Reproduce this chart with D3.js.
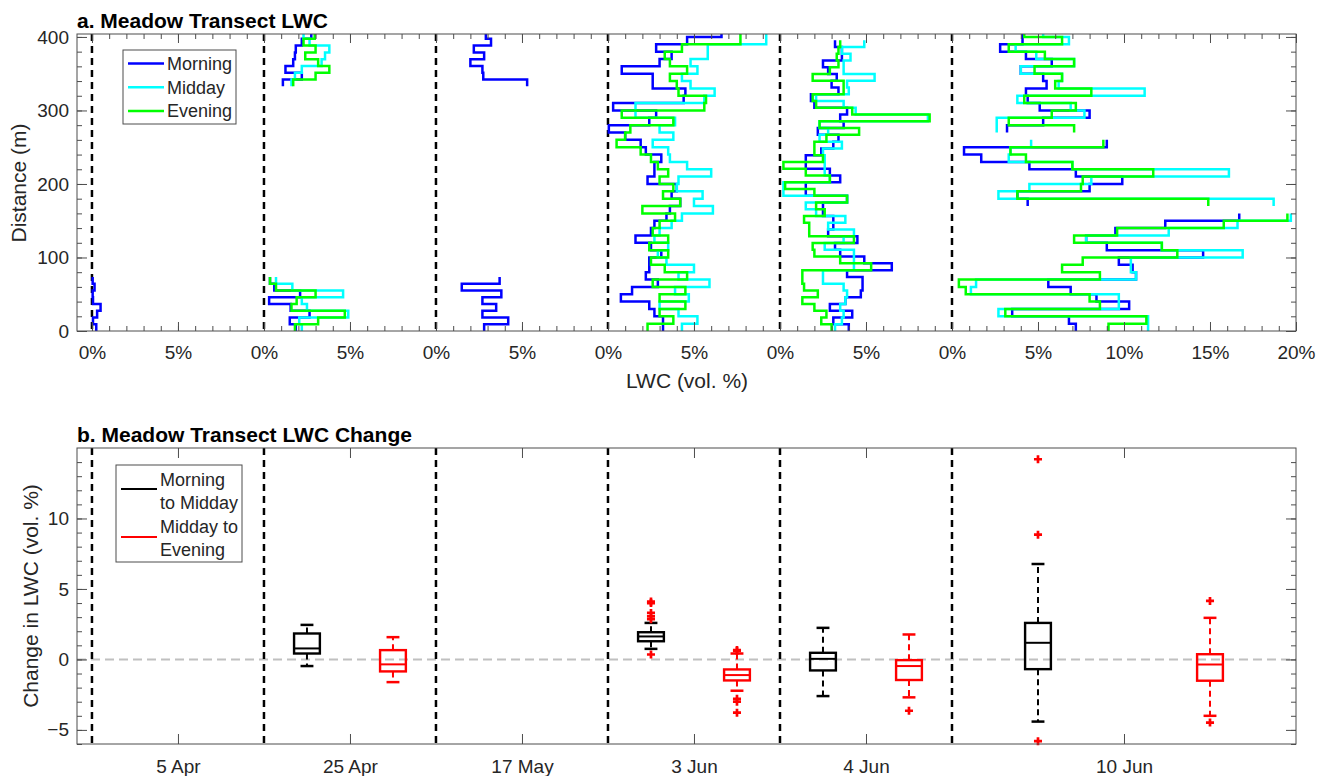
<!DOCTYPE html>
<html>
<head>
<meta charset="utf-8">
<script src="https://cdn.jsdelivr.net/npm/d3@7"></script>
<style>
  body { margin: 0; background: #fff; }
  svg { font-family: "Liberation Sans", Arial, Helvetica, sans-serif; }
</style>
</head>
<body>
<div id="chart"></div>
<script>
// survey days and their slot on the shared x axis (each slot is 10 %, the last one 20 %)
const dayLabels = ['5 Apr', '25 Apr', '17 May', '3 Jun', '4 Jun', '10 Jun'];
const dayOffsets = [0, 10, 20, 30, 40, 50];
const dayTicks = [5, 15, 25, 35, 45, 60];
const binSize = [9.2, 9.2, 9.2, 10, 9.2, 10]; // m between readings

const periods = ['Morning', 'Midday', 'Evening'];
const periodColors = ['#0000ff', '#00ffff', '#00ff00'];

// LWC (vol. %) from 0 m upwards, one value per bin
const apr5Morning = [0.25, 0.06, 0.3, 0.5, 0.06, 0.04, 0.15, 0.04];

const apr25MorningLow = [1.85, 1.5, 2.65, 1.55, 0.3, 2.1, 0.6, 0.35];
const apr25MorningHigh = [1.1, 2.2, 1.25, 1.7, 1.8, 1.85, 2.2, 2.75];
const apr25MiddayLow = [2.2, 2.05, 4.9, 2.5, 2.2, 4.6, 1.65, 0.7];
const apr25MiddayHigh = [1.6, 1.8, 2.2, 3.35, 3.55, 3.8, 2.65, 2.3];
const apr25EveningLow = [1.8, 3.15, 4.7, 1.6, 1.9, 3.0, 0.7, 0.35];
const apr25EveningHigh = [1.7, 3.0, 3.8, 3.15, 2.4, 3.0, 2.3, 2.95];

const may17MorningLow = [2.8, 4.2, 2.7, 3.5, 2.7, 3.8, 1.5, 3.7];
const may17MorningHigh = [5.3, 2.75, 2.7, 2.0, 2.8, 2.2, 3.2, 2.9];

const jun3Morning = [3.2, 3.2, 2.7, 2.4, 0.75, 1.4, 2.9, 2.2, 2.4, 2.4, 3.1, 2.5, 1.6, 2.5,
  2.7, 3.4, 3.6, 4.2, 3.7, 4.0, 2.3, 2.7, 2.7, 3.1, 2.2, 1.9, 1.0, 0.05, 2.4, 2.8, 0.3, 4.4,
  4.5, 2.6, 2.6, 0.8, 3.0, 3.7, 2.8, 4.6, 6.6];
const jun3Midday = [4.3, 5.2, 4.1, 3.0, 4.7, 3.9, 5.9, 4.1, 5.0, 3.4, 2.9, 3.5, 2.7, 3.0, 3.7,
  4.3, 6.1, 5.0, 5.5, 4.0, 4.1, 6.0, 4.6, 3.6, 3.5, 2.6, 3.8, 3.0, 3.9, 1.6, 1.6, 5.6, 6.2,
  4.8, 4.3, 5.2, 4.8, 5.8, 5.8, 9.2, 9.2];
const jun3Evening = [2.3, 3.8, 3.0, 4.5, 3.0, 4.5, 2.6, 4.6, 3.3, 2.5, 3.5, 2.4, 3.5, 2.6, 3.0,
  3.9, 2.0, 4.2, 3.2, 3.8, 3.0, 3.5, 2.9, 2.5, 1.9, 0.5, 1.0, 1.3, 3.8, 0.8, 5.6, 5.7, 4.1,
  4.0, 3.6, 4.6, 3.6, 3.3, 4.3, 7.7, 7.7];

const jun4Morning = [4.0, 3.1, 4.2, 2.9, 3.8, 4.7, 4.8, 4.8, 3.9, 6.5, 4.9, 3.5, 3.2, 4.5, 2.8,
  3.1, 3.1, 2.5, 2.5, 3.9, 1.5, 1.5, 3.5, 2.9, 1.5, 1.5, 2.4, 3.1, 3.4, 2.2, 3.7, 3.5, 3.9,
  2.0, 1.8, 3.4, 3.0, 3.3, 2.8, 2.5, 3.6, 3.6, 3.2];
const jun4Midday = [3.2, 3.6, 3.7, 3.5, 3.8, 3.9, 3.7, 2.5, 2.5, 4.3, 4.3, 4.3, 2.6, 3.7, 4.3,
  2.8, 3.8, 2.1, 1.5, 3.9, 0.2, 0.2, 2.9, 2.6, 2.6, 2.6, 2.5, 3.6, 2.3, 2.8, 2.3, 8.6, 4.4,
  3.7, 2.1, 4.0, 3.9, 5.5, 3.7, 3.7, 4.1, 3.6, 4.9];
const jun4Evening = [3.0, 2.4, 2.7, 2.0, 1.3, 2.2, 1.4, 1.3, 1.3, 5.3, 3.5, 2.0, 1.9, 4.3, 1.7,
  1.7, 1.4, 2.6, 2.1, 3.9, 2.0, 0.3, 2.9, 1.5, 0.2, 2.5, 2.0, 2.0, 2.7, 4.6, 2.3, 8.7, 4.2,
  2.1, 1.9, 3.7, 3.7, 1.9, 2.9, 3.4, 3.3, 3.4, 3.5];

// 10 Jun has two gaps (no readings near 160 m and 260 m)
const jun10MorningA = [7.2, 6.8, 3.5, 10.3, 8.4, 6.9, 5.6, 10.7, 10.5, 9.7, 14.6, 9.0, 7.8,
  9.5, 12.4, 16.7];
const jun10MorningB = [4.4, 3.8, 8.0, 9.9, 7.2, 4.5, 1.7, 0.7, 9.0];
const jun10MorningC = [3.2, 5.3, 8.0, 5.1, 4.4, 4.3, 5.5, 5.3, 4.0, 5.8, 4.3, 2.8, 4.1, 4.1];
const jun10MiddayA = [11.4, 11.4, 2.7, 9.7, 9.7, 1.1, 1.4, 10.7, 10.4, 10.4, 16.9, 12.2, 7.8,
  12.6, 16.6, 19.7];
const jun10MiddayB = [18.7, 2.7, 4.5, 8.1, 16.1, 7.0, 3.3, 3.4, 4.6];
const jun10MiddayC = [2.6, 2.6, 7.7, 6.9, 3.8, 11.2, 6.2, 6.4, 4.0, 7.1, 4.9, 3.7, 6.8, 5.3];
const jun10EveningA = [9.1, 11.3, 3.1, 8.6, 8.0, 0.8, 0.4, 8.6, 6.4, 7.6, 13.1, 12.2, 7.1,
  9.6, 15.8, 19.5];
const jun10EveningB = [14.9, 3.8, 7.5, 7.6, 11.7, 7.0, 4.3, 3.4, 8.8];
const jun10EveningC = [7.1, 3.3, 5.8, 7.2, 4.2, 8.1, 6.0, 6.4, 4.8, 7.1, 5.4, 3.3, 6.4, 4.2];

// [day, period, [[start distance (m), values], ...]]
const profiles = [
  [0, 0, [[0, apr5Morning]]],
  [1, 0, [[0, apr25MorningLow], [333, apr25MorningHigh]]],
  [2, 0, [[0, may17MorningLow], [333, may17MorningHigh]]],
  [3, 0, [[0, jun3Morning]]],
  [4, 0, [[0, jun4Morning]]],
  [5, 0, [[0, jun10MorningA], [170, jun10MorningB], [270, jun10MorningC]]],
  [1, 1, [[0, apr25MiddayLow], [333, apr25MiddayHigh]]],
  [3, 1, [[0, jun3Midday]]],
  [4, 1, [[0, jun4Midday]]],
  [5, 1, [[0, jun10MiddayA], [170, jun10MiddayB], [270, jun10MiddayC]]],
  [1, 2, [[0, apr25EveningLow], [333, apr25EveningHigh]]],
  [3, 2, [[0, jun3Evening]]],
  [4, 2, [[0, jun4Evening]]],
  [5, 2, [[0, jun10EveningA], [170, jun10EveningB], [270, jun10EveningC]]]
];

// change boxes: [lower whisker, q1, median, q3, upper whisker]
const boxDays = ['25 Apr', '3 Jun', '4 Jun', '10 Jun'];
const mmPos = [12.5, 32.5, 42.5, 55];
const mePos = [17.5, 37.5, 47.5, 65];
const mmStats = [
  [-0.47, 0.42, 0.78, 1.84, 2.45],
  [0.75, 1.29, 1.63, 1.93, 2.59],
  [-2.6, -0.78, 0.04, 0.47, 2.24],
  [-4.41, -0.69, 1.18, 2.59, 6.77]
];
const meStats = [
  [-1.61, -0.85, -0.35, 0.66, 1.58],
  [-2.22, -1.49, -1.11, -0.71, 0.42],
  [-2.69, -1.46, -0.47, -0.05, 1.77],
  [-4.0, -1.51, -0.36, 0.37, 2.95]
];
const mmOutliers = [[], [4.1, 4.0, 3.3, 3.05, 2.85, 0.35], [], [14.2, 8.85, -5.8]];
const meOutliers = [[], [0.66, 0.6, -2.79, -3.0, -3.78], [-3.64], [4.15, -4.48]];

const svgWidth = 1325;
const svgHeight = 776;
const axisColor = '#4d4d4d';
const textColor = '#262626';

const left = 77;
const right = 1296;
const panelA = {top: 34, bottom: 331};
const panelB = {top: 448, bottom: 744};

const svg = d3.select('#chart')
                .append('svg')
                .attr('width', svgWidth)
                .attr('height', svgHeight);

const x = d3.scaleLinear().domain([-0.87, 70]).range([left, right]);
const yA = d3.scaleLinear().domain([0, 404]).range([panelA.bottom, panelA.top]);
const yB = d3.scaleLinear().domain([-6, 15]).range([panelB.bottom, panelB.top]);

const styleAxis = function(g) {
  g.select('.domain').remove();
  g.selectAll('.tick line').attr('stroke', axisColor).attr('stroke-width', 1);
  g.selectAll('.tick text').attr('fill', textColor).style('font-size', '19px');
};

// ---------- panel a ----------
svg.append('defs').append('clipPath').attr('id', 'clipA')
    .append('rect')
    .attr('x', left).attr('y', panelA.top)
    .attr('width', right - left).attr('height', panelA.bottom - panelA.top);

const gA = svg.append('g');

gA.selectAll('line.sep')
    .data(dayOffsets)
    .join('line')
    .classed('sep', true)
    .attr('x1', d => x(d)).attr('x2', d => x(d))
    .attr('y1', panelA.top).attr('y2', panelA.bottom)
    .attr('stroke', '#000')
    .attr('stroke-width', 2.5)
    .attr('stroke-dasharray', '7,5');

const stair = d3.line()
                  .x(d => x(d[0]))
                  .y(d => yA(d[1]))
                  .curve(d3.curveStepBefore);

const lineGroup = gA.append('g').attr('clip-path', 'url(#clipA)');
profiles.forEach(([day, period, runs]) => {
  runs.forEach(([start, vals]) => {
    const pts = vals.map((v, i) => [dayOffsets[day] + v, start + i * binSize[day]]);
    pts.push([dayOffsets[day] + vals[vals.length - 1], start + vals.length * binSize[day]]);
    lineGroup.append('path')
        .attr('d', stair(pts))
        .attr('fill', 'none')
        .attr('stroke', periodColors[period])
        .attr('stroke-width', 2.5);
  });
});

const pctTicks = d3.range(0, 71, 1);
const pctMajor = pctTicks.filter(v => v % 5 === 0);
const pctLabel = v => (v < 50 ? v % 10 : v - 50) + '%';

gA.append('g')
    .attr('transform', `translate(0, ${panelA.bottom})`)
    .call(d3.axisBottom(x).tickValues(pctTicks).tickSize(-5).tickFormat(''))
    .call(styleAxis);
gA.append('g')
    .attr('transform', `translate(0, ${panelA.bottom})`)
    .call(d3.axisBottom(x).tickValues(pctMajor).tickSize(-9).tickPadding(15)
              .tickFormat(pctLabel))
    .call(styleAxis);
gA.append('g')
    .attr('transform', `translate(0, ${panelA.top})`)
    .call(d3.axisTop(x).tickValues(pctTicks).tickSize(-5).tickFormat(''))
    .call(styleAxis);
gA.append('g')
    .attr('transform', `translate(0, ${panelA.top})`)
    .call(d3.axisTop(x).tickValues(pctMajor).tickSize(-9).tickFormat(''))
    .call(styleAxis);

const distMinor = d3.range(0, 401, 20);
const distMajor = [0, 100, 200, 300, 400];
gA.append('g')
    .attr('transform', `translate(${left}, 0)`)
    .call(d3.axisLeft(yA).tickValues(distMinor).tickSize(-5).tickFormat(''))
    .call(styleAxis);
gA.append('g')
    .attr('transform', `translate(${left}, 0)`)
    .call(d3.axisLeft(yA).tickValues(distMajor).tickSize(-10).tickPadding(8))
    .call(styleAxis);
gA.append('g')
    .attr('transform', `translate(${right}, 0)`)
    .call(d3.axisRight(yA).tickValues(distMinor).tickSize(-5).tickFormat(''))
    .call(styleAxis);
gA.append('g')
    .attr('transform', `translate(${right}, 0)`)
    .call(d3.axisRight(yA).tickValues(distMajor).tickSize(-10).tickFormat(''))
    .call(styleAxis);

gA.append('rect')
    .attr('x', left).attr('y', panelA.top)
    .attr('width', right - left).attr('height', panelA.bottom - panelA.top)
    .attr('fill', 'none').attr('stroke', axisColor).attr('stroke-width', 1);

gA.append('text')
    .attr('x', left).attr('y', 28)
    .style('font-size', '21px').style('font-weight', 'bold')
    .text('a. Meadow Transect LWC');
gA.append('text')
    .attr('x', 687).attr('y', 388)
    .attr('text-anchor', 'middle')
    .attr('fill', textColor)
    .style('font-size', '21px')
    .text('LWC (vol. %)');
gA.append('text')
    .attr('transform', 'translate(26, 183) rotate(-90)')
    .attr('text-anchor', 'middle')
    .attr('fill', textColor)
    .style('font-size', '21px')
    .text('Distance (m)');

// legend a
const legA = gA.append('g');
legA.append('rect')
    .attr('x', 123).attr('y', 50).attr('width', 113).attr('height', 74)
    .attr('fill', '#fff').attr('stroke', axisColor).attr('stroke-width', 1);
periods.forEach((p, i) => {
  const yy = 63.5 + i * 23.7;
  legA.append('line')
      .attr('x1', 128).attr('x2', 164).attr('y1', yy).attr('y2', yy)
      .attr('stroke', periodColors[i]).attr('stroke-width', 2.5);
  legA.append('text')
      .attr('x', 167).attr('y', yy).attr('dy', '0.35em')
      .attr('fill', textColor)
      .style('font-size', '18px')
      .text(p);
});

// ---------- panel b ----------
const gB = svg.append('g');

gB.append('line')
    .attr('x1', left).attr('x2', right)
    .attr('y1', yB(0)).attr('y2', yB(0))
    .attr('stroke', '#c0c0c0')
    .attr('stroke-width', 2)
    .attr('stroke-dasharray', '9,5');

gB.selectAll('line.sep')
    .data(dayOffsets)
    .join('line')
    .classed('sep', true)
    .attr('x1', d => x(d)).attr('x2', d => x(d))
    .attr('y1', panelB.top).attr('y2', panelB.bottom)
    .attr('stroke', '#000')
    .attr('stroke-width', 2.5)
    .attr('stroke-dasharray', '7,5');

gB.append('g')
    .attr('transform', `translate(0, ${panelB.bottom})`)
    .call(d3.axisBottom(x).tickValues(dayTicks).tickSize(-10).tickPadding(16)
              .tickFormat((d, i) => dayLabels[i]))
    .call(styleAxis);
gB.append('g')
    .attr('transform', `translate(0, ${panelB.top})`)
    .call(d3.axisTop(x).tickValues(dayTicks).tickSize(-10).tickFormat(''))
    .call(styleAxis);

const chMinor = d3.range(-6, 15, 1);
const chMajor = [-5, 0, 5, 10];
gB.append('g')
    .attr('transform', `translate(${left}, 0)`)
    .call(d3.axisLeft(yB).tickValues(chMinor).tickSize(-5).tickFormat(''))
    .call(styleAxis);
gB.append('g')
    .attr('transform', `translate(${left}, 0)`)
    .call(d3.axisLeft(yB).tickValues(chMajor).tickSize(-10).tickPadding(8))
    .call(styleAxis);
gB.append('g')
    .attr('transform', `translate(${right}, 0)`)
    .call(d3.axisRight(yB).tickValues(chMinor).tickSize(-5).tickFormat(''))
    .call(styleAxis);
gB.append('g')
    .attr('transform', `translate(${right}, 0)`)
    .call(d3.axisRight(yB).tickValues(chMajor).tickSize(-10).tickFormat(''))
    .call(styleAxis);

const boxHalf = 0.75; // half box width in axis units
const drawBox = function(pos, stats, color) {
  const [lo, q1, med, q3, hi] = stats;
  const g = gB.append('g').attr('stroke', color).attr('fill', 'none');
  g.append('line')
      .attr('x1', x(pos)).attr('x2', x(pos)).attr('y1', yB(q3)).attr('y2', yB(hi))
      .attr('stroke-width', 2).attr('stroke-dasharray', '6,4');
  g.append('line')
      .attr('x1', x(pos)).attr('x2', x(pos)).attr('y1', yB(q1)).attr('y2', yB(lo))
      .attr('stroke-width', 2).attr('stroke-dasharray', '6,4');
  [lo, hi].forEach(v => {
    g.append('line')
        .attr('x1', x(pos - boxHalf / 2)).attr('x2', x(pos + boxHalf / 2))
        .attr('y1', yB(v)).attr('y2', yB(v))
        .attr('stroke-width', 2.5);
  });
  g.append('rect')
      .attr('x', x(pos - boxHalf)).attr('y', yB(q3))
      .attr('width', x(pos + boxHalf) - x(pos - boxHalf))
      .attr('height', yB(q1) - yB(q3))
      .attr('stroke-width', 2.4);
  g.append('line')
      .attr('x1', x(pos - boxHalf)).attr('x2', x(pos + boxHalf))
      .attr('y1', yB(med)).attr('y2', yB(med))
      .attr('stroke-width', 2);
};

const drawOutliers = function(pos, vals) {
  gB.selectAll(null)
      .data(vals)
      .join('path')
      .attr('d', d3.symbol(d3.symbolCross, 36))
      .attr('transform', v => `translate(${x(pos)}, ${yB(v)})`)
      .attr('fill', '#ff0000');
};

boxDays.forEach((d, i) => {
  drawBox(mmPos[i], mmStats[i], '#000');
  drawBox(mePos[i], meStats[i], '#ff0000');
  drawOutliers(mmPos[i], mmOutliers[i]);
  drawOutliers(mePos[i], meOutliers[i]);
});

gB.append('rect')
    .attr('x', left).attr('y', panelB.top)
    .attr('width', right - left).attr('height', panelB.bottom - panelB.top)
    .attr('fill', 'none').attr('stroke', axisColor).attr('stroke-width', 1);

gB.append('text')
    .attr('x', left).attr('y', 442)
    .style('font-size', '21px').style('font-weight', 'bold')
    .text('b. Meadow Transect LWC Change');
gB.append('text')
    .attr('transform', 'translate(38, 596) rotate(-90)')
    .attr('text-anchor', 'middle')
    .attr('fill', textColor)
    .style('font-size', '21px')
    .text('Change in LWC (vol. %)');

// legend b
const legB = gB.append('g');
legB.append('rect')
    .attr('x', 116).attr('y', 465).attr('width', 126).attr('height', 97)
    .attr('fill', '#fff').attr('stroke', axisColor).attr('stroke-width', 1);
const legBItems = [
  {color: '#000', lineY: 489, text: ['Morning', 'to Midday'], textY: 480},
  {color: '#ff0000', lineY: 537, text: ['Midday to', 'Evening'], textY: 527}
];
legBItems.forEach(item => {
  legB.append('line')
      .attr('x1', 121).attr('x2', 157).attr('y1', item.lineY).attr('y2', item.lineY)
      .attr('stroke', item.color).attr('stroke-width', 2);
  item.text.forEach((t, j) => {
    legB.append('text')
        .attr('x', 160).attr('y', item.textY + j * 23).attr('dy', '0.35em')
        .attr('fill', textColor)
        .style('font-size', '18px')
        .text(t);
  });
});
</script>
</body>
</html>
